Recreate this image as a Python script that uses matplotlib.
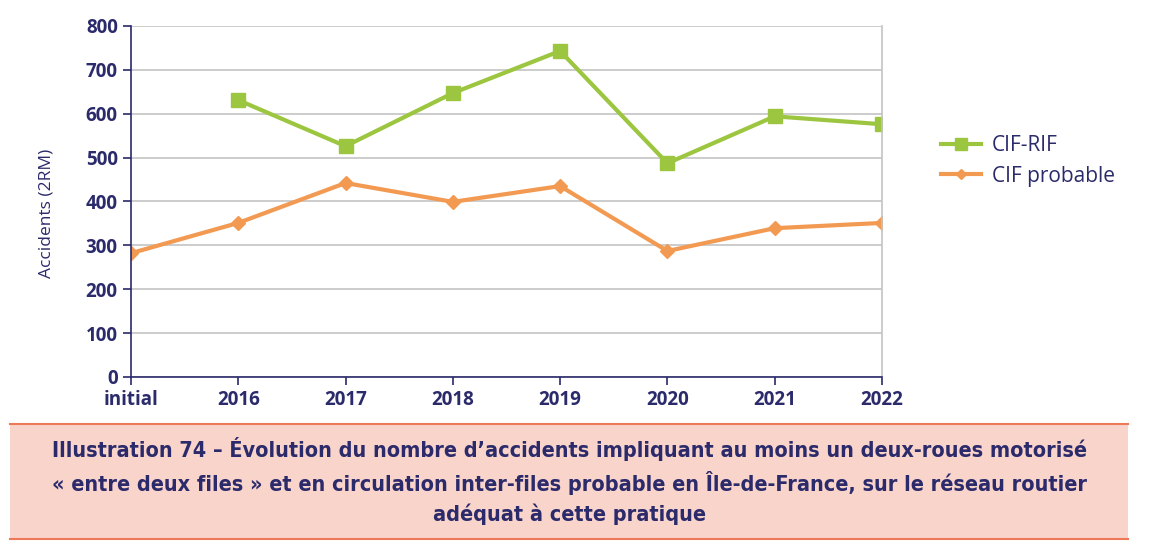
import numpy as np
import matplotlib.pyplot as plt
from matplotlib.patches import Rectangle
from matplotlib.lines import Line2D

categories = ['initial', '2016', '2017', '2018', '2019', '2020', '2021', '2022']
cif_rif = [np.nan, 631, 526, 647, 743, 487, 594, 576]
cif_probable = [282, 351, 442, 399, 435, 287, 339, 351]
yticks = [0, 100, 200, 300, 400, 500, 600, 700, 800]
caption = ("Illustration 74 \u2013 \u00c9volution du nombre d\u2019accidents impliquant au moins un deux-roues motoris\u00e9\n"
           "\u00ab entre deux files \u00bb et en circulation inter-files probable en \u00cele-de-France, sur le r\u00e9seau routier\n"
           "ad\u00e9quat \u00e0 cette pratique")

navy = '#2b2a6b'
green = '#9cc640'
orange = '#f39a52'
grid = '#c4c4c4'

plt.rcParams['font.family'] = ['Open Sans', 'DejaVu Sans']

fig = plt.figure(figsize=(11.62, 5.47), dpi=100)
ax = fig.add_axes([0.1127, 0.311, 0.6463, 0.6415])

x = np.arange(len(categories))
ax.plot(x, cif_rif, color=green, lw=3, marker='s', ms=10, label='CIF-RIF')
ax.plot(x, cif_probable, color=orange, lw=3, marker='D', ms=7, label='CIF probable')

ax.set_xlim(0, len(categories) - 1)
ax.set_ylim(0, 800)
ax.set_yticks(yticks)
ax.set_xticks(x)
ax.set_xticklabels(categories)
ax.yaxis.grid(True, color=grid, lw=1.2)
ax.set_axisbelow(True)
ax.tick_params(colors=navy, labelsize=13.5, length=6, width=1.2)
for lab in ax.get_xticklabels() + ax.get_yticklabels():
    lab.set_fontweight('bold')
ax.spines['top'].set_visible(False)
ax.spines['right'].set_color(grid)
ax.spines['right'].set_linewidth(1.2)
ax.spines['left'].set_color(navy)
ax.spines['bottom'].set_color(navy)
ax.spines['left'].set_linewidth(1.2)
ax.spines['bottom'].set_linewidth(1.2)
ax.set_ylabel('Accidents (2RM)', color=navy, fontsize=12.5)
ax.yaxis.set_label_coords(-0.102, 0.465)

ax.legend(loc='center left', bbox_to_anchor=(1.065, 0.615), frameon=False,
          fontsize=15, labelcolor=navy, handlelength=1.9, borderpad=0,
          labelspacing=0.45, handletextpad=0.55, markerscale=0.8)

box = Rectangle((0.009, 0.015), 0.962, 0.21, transform=fig.transFigure,
                facecolor='#f9d4cb', edgecolor='none')
fig.add_artist(box)
for yy in (0.015, 0.225):
    fig.add_artist(Line2D([0.009, 0.971], [yy, yy], transform=fig.transFigure,
                          color='#ec7a58', lw=1.5))
fig.text(0.49, 0.12, caption, ha='center', va='center', color=navy,
         fontsize=15.5, fontweight='bold', fontstretch='condensed',
         linespacing=1.5, family=['DejaVu Sans'])

fig.savefig('out.png', dpi=100)
